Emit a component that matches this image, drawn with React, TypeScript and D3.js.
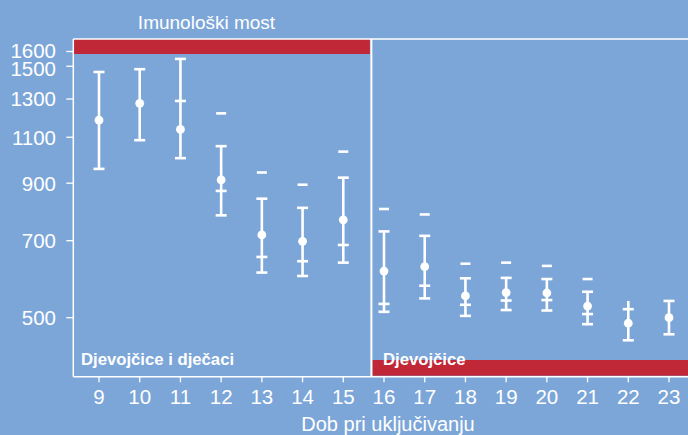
import React from 'react';
import * as d3 from 'd3';

// Age at enrolment (x categories)
const ages = [9, 10, 11, 12, 13, 14, 15, 16, 17, 18, 19, 20, 21, 22, 23];
// Point estimate and interval per age
const means = [1185, 1276, 1138, 913, 718, 698, 767, 613, 625, 550, 558, 557, 526, 488, 500];
const lower = [958, 1086, 1004, 782, 609, 600, 636, 513, 544, 504, 517, 516, 486, 453, 465];
const upper = [1463, 1481, 1549, 1058, 841, 808, 922, 729, 715, 594, 595, 592, 560, 538, 538];
const upperCapped = [true, true, true, true, true, true, true, true, true, true, true, true, true, false, true];
// extra reference marks
const midTicks: (number | null)[] = [null, null, 1289, 870, 652, 640, 687, 531, 575, 529, 539, 540, 508, 519, null];
const dashes: (number | null)[] = [null, null, null, 1221, 943, 894, 1033, 804, 785, 633, 636, 627, 592, null, null];

const yTicks = [500, 700, 900, 1100, 1300, 1500, 1600];

const title = 'Imunološki most';
const xTitle = 'Dob pri uključivanju';
const leftLabel = 'Djevojčice i dječaci';
const rightLabel = 'Djevojčice';

const W = 688;
const H = 435;
const BG = '#7ca6d8';
const RED = '#c02737';
const FONT = '"Liberation Sans", Arial, Helvetica, sans-serif';

const App: React.FC = () => {
  const top = 39;
  const bottom = 376.7;
  const left = 73.3;

  const x = d3.scaleLinear().domain([9, 23]).range([99, 669]);
  const y = d3.scaleLog().domain([500, 1600]).range([317.7, 51.5]);
  const divider = x(15.69);

  const capW = 5.5;
  const dashW = 5;
  const sw = 2.6;

  // 1600 and 1500 sit close together, labels nudged apart a little
  const labelShift = (t: number) => (t === 1500 ? 2.5 : t === 1600 ? -0.5 : 0);

  return (
    <div style={{ position: 'fixed', left: 0, top: 0 }}>
      <svg width={W} height={H} style={{ display: 'block', fontFamily: FONT }}>
        <rect x={0} y={0} width={W} height={H} fill={BG} />

        {/* red bands */}
        <rect x={left} y={top} width={divider - left - 1.5} height={15} fill={RED} />
        <rect x={divider + 1} y={360} width={W - divider} height={bottom - 360 - 1} fill={RED} />

        {/* frame */}
        <g stroke="#fff" fill="none">
          <line x1={left} x2={W} y1={top} y2={top} strokeWidth={1.5} />
          <line x1={left} x2={left} y1={top} y2={bottom} strokeWidth={1.5} />
          <line x1={left} x2={W} y1={bottom} y2={bottom} strokeWidth={1.5} />
          <line x1={divider} x2={divider} y1={top} y2={bottom} strokeWidth={2} />
        </g>

        <text x={206.5} y={29} fill="#fff" fontSize={19} textAnchor="middle">{title}</text>

        {/* y axis */}
        {yTicks.map((t) => (
          <g key={t} transform={`translate(0,${y(t)})`}>
            <line x1={left - 7} x2={left} stroke="#fff" strokeWidth={1.3} />
            <text x={56} y={labelShift(t)} dy="0.36em" fill="#fff" fontSize={20.5} textAnchor="end">{t}</text>
          </g>
        ))}

        {/* x axis */}
        {ages.map((a) => (
          <g key={a} transform={`translate(${x(a)},0)`}>
            <line y1={bottom} y2={bottom + 5.5} stroke="#fff" strokeWidth={1.3} />
            <text y={403.5} fill="#fff" fontSize={20.5} textAnchor="middle">{a}</text>
          </g>
        ))}
        <text x={388} y={431} fill="#fff" fontSize={20} textAnchor="middle">{xTitle}</text>

        <text x={81} y={365} fill="#fff" fontSize={16.7} fontWeight="bold">{leftLabel}</text>
        <text x={383} y={365} fill="#fff" fontSize={16.7} fontWeight="bold">{rightLabel}</text>

        {/* intervals */}
        {ages.map((a, i) => {
          const cx = x(a);
          const mid = midTicks[i];
          const dash = dashes[i];
          return (
            <g key={a} stroke="#fff" strokeWidth={sw} fill="none">
              <line x1={cx} x2={cx} y1={y(lower[i])} y2={y(upper[i])} />
              <line x1={cx - capW} x2={cx + capW} y1={y(lower[i])} y2={y(lower[i])} />
              {upperCapped[i] && (
                <line x1={cx - capW} x2={cx + capW} y1={y(upper[i])} y2={y(upper[i])} />
              )}
              {mid !== null && <line x1={cx - capW} x2={cx + capW} y1={y(mid)} y2={y(mid)} />}
              {dash !== null && <line x1={cx - dashW} x2={cx + dashW} y1={y(dash)} y2={y(dash)} />}
              <circle cx={cx} cy={y(means[i])} r={4.4} fill="#fff" stroke="none" />
            </g>
          );
        })}
      </svg>
    </div>
  );
};

export default App;
